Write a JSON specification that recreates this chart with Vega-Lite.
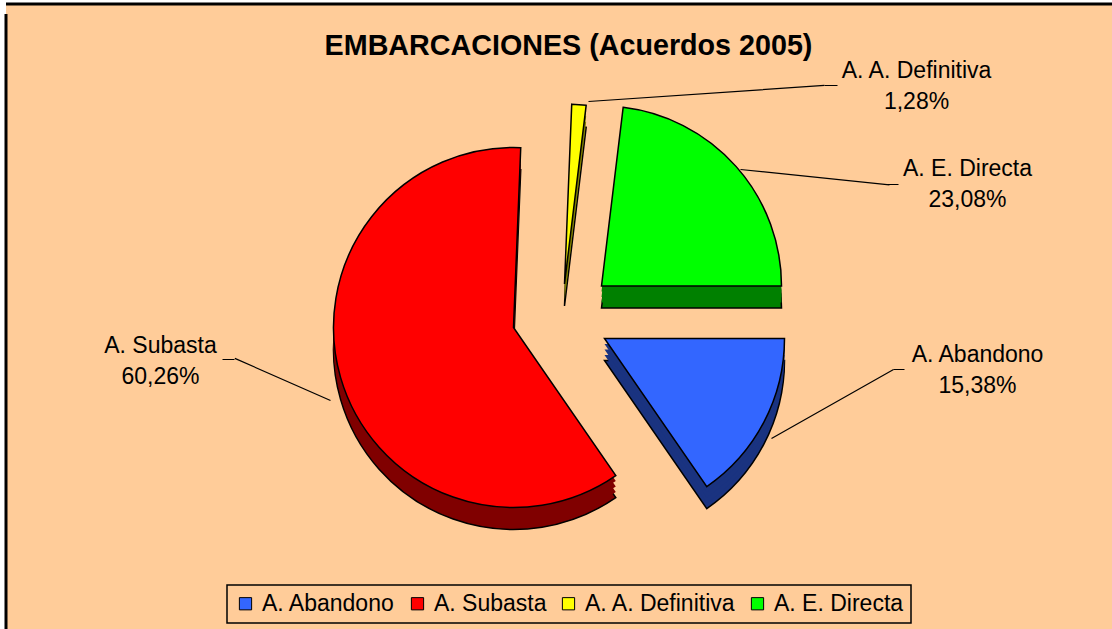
{
  "$schema": "https://vega.github.io/schema/vega-lite/v6.json",
  "width": 1112,
  "height": 629,
  "autosize": {"type": "fit", "contains": "padding"},
  "padding": {"left": 6, "top": 4, "right": -3, "bottom": -3},
  "background": "white",
  "view": {"fill": "#FFCC99", "stroke": "black", "strokeWidth": 3, "strokeDash": [1106, 1732, 626]},
  "title": {
    "text": "EMBARCACIONES (Acuerdos 2005)",
    "font": "Liberation Sans",
    "fontSize": 28.7,
    "fontWeight": "bold",
    "color": "black",
    "anchor": "middle",
    "frame": "group",
    "orient": "top",
    "offset": 0,
    "baseline": "alphabetic",
    "dx": 8,
    "dy": 80
  },
  "config": {
    "legend": {
      "labelFont": "Liberation Sans",
      "labelFontSize": 23,
      "labelColor": "black",
      "symbolType": "square",
      "symbolSize": 150,
      "symbolStrokeColor": "black",
      "symbolStrokeWidth": 1,
      "symbolOpacity": 1,
      "strokeWidth": 1.5,
      "padding": 7,
      "columnPadding": 10,
      "labelOffset": 5
    }
  },
  "data": {
    "values": [
      {"cat": "A. Abandono", "value": 15.38, "pct": "15,38%"},
      {"cat": "A. Subasta", "value": 60.26, "pct": "60,26%"},
      {"cat": "A. A. Definitiva", "value": 1.28, "pct": "1,28%"},
      {"cat": "A. E. Directa", "value": 23.08, "pct": "23,08%"}
    ]
  },
  "transform": [{"stack": "value", "groupby": [], "as": ["v0", "v1"]}],
  "encoding": {
    "theta": {"field": "v0", "type": "quantitative", "scale": {"domain": [0, 100], "range": [1.5707963, 7.8539816]}},
    "theta2": {"field": "v1"}
  },
  "layer": [
    {"transform": [{"filter": "datum.cat === 'A. Abandono'"}], "mark": {"type": "arc", "radius": 180, "xOffset": 44, "yOffset": 42.5, "fill": "#1A3380", "stroke": "black", "strokeWidth": 1.5}},
    {"transform": [{"filter": "datum.cat === 'A. Subasta'"}], "mark": {"type": "arc", "radius": 180, "xOffset": -47, "yOffset": 31.5, "fill": "#800000", "stroke": "black", "strokeWidth": 1.5}},
    {"transform": [{"filter": "datum.cat === 'A. A. Definitiva'"}], "mark": {"type": "arc", "radius": 180, "xOffset": 4, "yOffset": -12, "fill": "#808000", "stroke": "black", "strokeWidth": 1.5}},
    {"transform": [{"filter": "datum.cat === 'A. E. Directa'"}], "mark": {"type": "arc", "radius": 180, "xOffset": 41, "yOffset": -10, "fill": "#008000", "stroke": "black", "strokeWidth": 1.5}},

    {"transform": [{"filter": "datum.cat === 'A. Abandono'"}], "mark": {"type": "arc", "radius": 180, "xOffset": 44, "yOffset": 37, "fill": "#1A3380"}},
    {"transform": [{"filter": "datum.cat === 'A. Subasta'"}], "mark": {"type": "arc", "radius": 180, "xOffset": -47, "yOffset": 26, "fill": "#800000"}},
    {"transform": [{"filter": "datum.cat === 'A. A. Definitiva'"}], "mark": {"type": "arc", "radius": 180, "xOffset": 4, "yOffset": -17.5, "fill": "#808000"}},
    {"transform": [{"filter": "datum.cat === 'A. E. Directa'"}], "mark": {"type": "arc", "radius": 180, "xOffset": 41, "yOffset": -15.5, "fill": "#008000"}},

    {"transform": [{"filter": "datum.cat === 'A. Abandono'"}], "mark": {"type": "arc", "radius": 180, "xOffset": 44, "yOffset": 31.5, "fill": "#1A3380"}},
    {"transform": [{"filter": "datum.cat === 'A. Subasta'"}], "mark": {"type": "arc", "radius": 180, "xOffset": -47, "yOffset": 20.5, "fill": "#800000"}},
    {"transform": [{"filter": "datum.cat === 'A. A. Definitiva'"}], "mark": {"type": "arc", "radius": 180, "xOffset": 4, "yOffset": -23, "fill": "#808000"}},
    {"transform": [{"filter": "datum.cat === 'A. E. Directa'"}], "mark": {"type": "arc", "radius": 180, "xOffset": 41, "yOffset": -21, "fill": "#008000"}},

    {"transform": [{"filter": "datum.cat === 'A. Abandono'"}], "mark": {"type": "arc", "radius": 180, "xOffset": 44, "yOffset": 26, "fill": "#1A3380"}},
    {"transform": [{"filter": "datum.cat === 'A. Subasta'"}], "mark": {"type": "arc", "radius": 180, "xOffset": -47, "yOffset": 15, "fill": "#800000"}},
    {"transform": [{"filter": "datum.cat === 'A. A. Definitiva'"}], "mark": {"type": "arc", "radius": 180, "xOffset": 4, "yOffset": -28.5, "fill": "#808000"}},
    {"transform": [{"filter": "datum.cat === 'A. E. Directa'"}], "mark": {"type": "arc", "radius": 180, "xOffset": 41, "yOffset": -26.5, "fill": "#008000"}},

    {"transform": [{"filter": "datum.cat === 'A. Abandono'"}], "mark": {"type": "arc", "radius": 180, "xOffset": 44, "yOffset": 20.5, "stroke": "black", "strokeWidth": 1.5},
     "encoding": {"color": {"field": "cat", "type": "nominal", "scale": {"domain": ["A. Abandono", "A. Subasta", "A. A. Definitiva", "A. E. Directa"], "range": ["#3366FF", "#FF0000", "#FFFF00", "#00FF00"]}, "legend": {"orient": "none", "legendX": 221, "legendY": 581, "direction": "horizontal", "columns": 4, "title": null, "strokeColor": "black"}}}},
    {"transform": [{"filter": "datum.cat === 'A. Subasta'"}], "mark": {"type": "arc", "radius": 180, "xOffset": -47, "yOffset": 9.5, "stroke": "black", "strokeWidth": 1.5},
     "encoding": {"color": {"field": "cat", "type": "nominal", "scale": {"domain": ["A. Abandono", "A. Subasta", "A. A. Definitiva", "A. E. Directa"], "range": ["#3366FF", "#FF0000", "#FFFF00", "#00FF00"]}, "legend": {"orient": "none", "legendX": 221, "legendY": 581, "direction": "horizontal", "columns": 4, "title": null, "strokeColor": "black"}}}},
    {"transform": [{"filter": "datum.cat === 'A. A. Definitiva'"}], "mark": {"type": "arc", "radius": 180, "xOffset": 4, "yOffset": -34, "stroke": "black", "strokeWidth": 1.5},
     "encoding": {"color": {"field": "cat", "type": "nominal", "scale": {"domain": ["A. Abandono", "A. Subasta", "A. A. Definitiva", "A. E. Directa"], "range": ["#3366FF", "#FF0000", "#FFFF00", "#00FF00"]}, "legend": {"orient": "none", "legendX": 221, "legendY": 581, "direction": "horizontal", "columns": 4, "title": null, "strokeColor": "black"}}}},
    {"transform": [{"filter": "datum.cat === 'A. E. Directa'"}], "mark": {"type": "arc", "radius": 180, "xOffset": 41, "yOffset": -32, "stroke": "black", "strokeWidth": 1.5},
     "encoding": {"color": {"field": "cat", "type": "nominal", "scale": {"domain": ["A. Abandono", "A. Subasta", "A. A. Definitiva", "A. E. Directa"], "range": ["#3366FF", "#FF0000", "#FFFF00", "#00FF00"]}, "legend": {"orient": "none", "legendX": 221, "legendY": 581, "direction": "horizontal", "columns": 4, "title": null, "strokeColor": "black"}}}},

    {"transform": [{"filter": "datum.cat === 'A. A. Definitiva'"}], "mark": {"type": "arc", "radius": 236.5, "xOffset": 28, "yOffset": -216.5, "fill": "transparent", "stroke": "black", "strokeWidth": 1.2}, "encoding": {"theta": {"datum": 98.92}, "theta2": {"datum": 98.92}}},
    {"transform": [{"filter": "datum.cat === 'A. A. Definitiva'"}], "mark": {"type": "arc", "radius": 13, "xOffset": 264, "yOffset": -232.5, "fill": "transparent", "stroke": "black", "strokeWidth": 1.2}, "encoding": {"theta": {"datum": 0}, "theta2": {"datum": 0}}},
    {"transform": [{"filter": "datum.cat === 'A. E. Directa'"}], "mark": {"type": "arc", "radius": 149.75, "xOffset": 180, "yOffset": -148.5, "fill": "transparent", "stroke": "black", "strokeWidth": 1.2}, "encoding": {"theta": {"datum": 1.63}, "theta2": {"datum": 1.63}}},
    {"transform": [{"filter": "datum.cat === 'A. E. Directa'"}], "mark": {"type": "arc", "radius": 11, "xOffset": 327, "yOffset": -133.5, "fill": "transparent", "stroke": "black", "strokeWidth": 1.2}, "encoding": {"theta": {"datum": 0}, "theta2": {"datum": 0}}},
    {"transform": [{"filter": "datum.cat === 'A. Abandono'"}], "mark": {"type": "arc", "radius": 140.2, "xOffset": 211, "yOffset": 120.5, "fill": "transparent", "stroke": "black", "strokeWidth": 1.2}, "encoding": {"theta": {"datum": 91.81}, "theta2": {"datum": 91.81}}},
    {"transform": [{"filter": "datum.cat === 'A. Abandono'"}], "mark": {"type": "arc", "radius": 11, "xOffset": 333, "yOffset": 51.5, "fill": "transparent", "stroke": "black", "strokeWidth": 1.2}, "encoding": {"theta": {"datum": 0}, "theta2": {"datum": 0}}},
    {"transform": [{"filter": "datum.cat === 'A. Subasta'"}], "mark": {"type": "arc", "radius": 104.5, "xOffset": -230, "yOffset": 82.5, "fill": "transparent", "stroke": "black", "strokeWidth": 1.2}, "encoding": {"theta": {"datum": 56.6}, "theta2": {"datum": 56.6}}},
    {"transform": [{"filter": "datum.cat === 'A. Subasta'"}], "mark": {"type": "arc", "radius": 12, "xOffset": -326, "yOffset": 41.5, "fill": "transparent", "stroke": "black", "strokeWidth": 1.2}, "encoding": {"theta": {"datum": 50}, "theta2": {"datum": 50}}},

    {"transform": [{"filter": "datum.cat === 'A. A. Definitiva'"}], "mark": {"type": "text", "radius": 429.1, "font": "Liberation Sans", "fontSize": 23, "align": "center", "baseline": "alphabetic", "color": "black"}, "encoding": {"theta": {"datum": 90.575}, "text": {"field": "cat"}}},
    {"transform": [{"filter": "datum.cat === 'A. A. Definitiva'"}], "mark": {"type": "text", "radius": 429.1, "dy": 31, "font": "Liberation Sans", "fontSize": 23, "align": "center", "baseline": "alphabetic", "color": "black"}, "encoding": {"theta": {"datum": 90.575}, "text": {"field": "pct"}}},
    {"transform": [{"filter": "datum.cat === 'A. E. Directa'"}], "mark": {"type": "text", "radius": 431.2, "font": "Liberation Sans", "fontSize": 23, "align": "center", "baseline": "alphabetic", "color": "black"}, "encoding": {"theta": {"datum": 94.64}, "text": {"field": "cat"}}},
    {"transform": [{"filter": "datum.cat === 'A. E. Directa'"}], "mark": {"type": "text", "radius": 431.2, "dy": 31, "font": "Liberation Sans", "fontSize": 23, "align": "center", "baseline": "alphabetic", "color": "black"}, "encoding": {"theta": {"datum": 94.64}, "text": {"field": "pct"}}},
    {"transform": [{"filter": "datum.cat === 'A. Abandono'"}], "mark": {"type": "text", "radius": 419.4, "font": "Liberation Sans", "fontSize": 23, "align": "center", "baseline": "alphabetic", "color": "black"}, "encoding": {"theta": {"datum": 1.69}, "text": {"field": "cat"}}},
    {"transform": [{"filter": "datum.cat === 'A. Abandono'"}], "mark": {"type": "text", "radius": 419.4, "dy": 31, "font": "Liberation Sans", "fontSize": 23, "align": "center", "baseline": "alphabetic", "color": "black"}, "encoding": {"theta": {"datum": 1.69}, "text": {"field": "pct"}}},
    {"transform": [{"filter": "datum.cat === 'A. Subasta'"}], "mark": {"type": "text", "radius": 401.5, "font": "Liberation Sans", "fontSize": 23, "align": "center", "baseline": "alphabetic", "color": "black"}, "encoding": {"theta": {"datum": 48.63}, "text": {"field": "cat"}}},
    {"transform": [{"filter": "datum.cat === 'A. Subasta'"}], "mark": {"type": "text", "radius": 401.5, "dy": 31, "font": "Liberation Sans", "fontSize": 23, "align": "center", "baseline": "alphabetic", "color": "black"}, "encoding": {"theta": {"datum": 48.63}, "text": {"field": "pct"}}}
  ]
}
